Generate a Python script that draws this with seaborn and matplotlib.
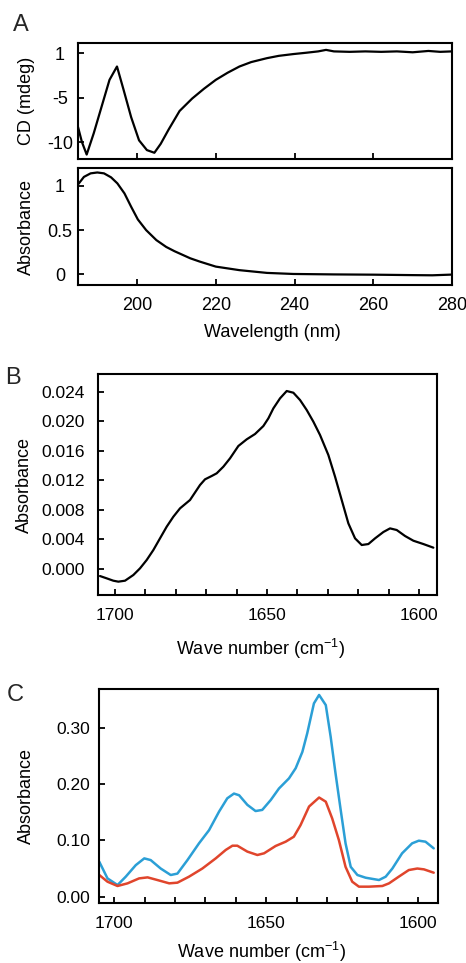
import numpy as np
import pandas as pd
import matplotlib
matplotlib.use("Agg")
import matplotlib.pyplot as plt
import seaborn as sns
from matplotlib.ticker import FixedLocator, MultipleLocator

# ---- panel A: CD spectrum and UV absorbance ----
cd_wavelength = [185.0, 186.0, 187.2, 189.0, 191.0, 193.0, 194.9, 196.5, 198.5, 200.5,
                 202.5, 204.4, 206.0, 208.0, 210.8, 214.0, 217.0, 220.0, 223.0, 226.0,
                 229.0, 233.0, 236.0, 239.7, 243.0, 246.0, 248.0, 250.0, 254.0, 258.0,
                 262.0, 266.0, 270.0, 274.0, 277.0, 280.0]
cd_mdeg = [-8.3, -10.0, -11.4, -9.0, -6.0, -3.0, -1.5, -4.0, -7.2, -9.8,
           -10.9, -11.2, -10.2, -8.6, -6.5, -5.1, -4.0, -3.0, -2.2, -1.5,
           -1.0, -0.56, -0.3, -0.1, 0.05, 0.2, 0.37, 0.2, 0.15, 0.2,
           0.15, 0.2, 0.1, 0.25, 0.15, 0.2]

uv_wavelength = [185.1, 186.5, 188.2, 189.9, 191.6, 193.4, 195.0, 196.8, 198.5, 200.2,
                 202.3, 204.9, 207.4, 209.5, 211.6, 213.5, 215.9, 220.0, 226.0, 233.0,
                 239.7, 250.0, 260.0, 270.0, 275.0, 280.0]
uv_abs = [1.02, 1.10, 1.14, 1.15, 1.14, 1.095, 1.027, 0.914, 0.763, 0.62,
          0.50, 0.387, 0.31, 0.262, 0.22, 0.182, 0.145, 0.088, 0.048, 0.017,
          0.005, 0.0, -0.003, -0.008, -0.01, -0.002]

# ---- panel B: FTIR amide I ----
b_wavenumber = [1704.93, 1702.74, 1700.55, 1698.90, 1696.71, 1693.97, 1691.78, 1689.58, 1687.39, 1685.20,
                1683.00, 1680.81, 1678.62, 1675.33, 1672.04, 1670.39, 1668.20, 1666.56, 1664.36, 1662.17,
                1659.43, 1656.69, 1653.95, 1651.21, 1649.56, 1647.92, 1645.72, 1643.53, 1641.34, 1639.14,
                1636.95, 1634.76, 1632.57, 1629.83, 1627.63, 1625.44, 1623.25, 1621.05, 1618.86, 1616.67,
                1614.47, 1611.73, 1609.54, 1607.35, 1604.61, 1601.86, 1598.57, 1595.29]
b_abs = [-0.00095, -0.00126, -0.00158, -0.00171, -0.00158, -0.00081, 0.00009, 0.00122, 0.00257, 0.00415,
         0.00573, 0.00708, 0.00821, 0.00934, 0.01137, 0.01214, 0.01259, 0.01295, 0.01385, 0.01498,
         0.01665, 0.01755, 0.01827, 0.01935, 0.02039, 0.02174, 0.02310, 0.02409, 0.02386, 0.02287,
         0.02152, 0.01994, 0.01814, 0.01543, 0.01250, 0.00934, 0.00618, 0.00415, 0.00325, 0.00338,
         0.00415, 0.00501, 0.00550, 0.00528, 0.00447, 0.00383, 0.00338, 0.00289]

# ---- panel C: two FTIR spectra ----
c_blue_wn = [1704.9, 1702.2, 1698.9, 1696.2, 1692.9, 1690.1, 1688.0, 1684.7, 1681.4, 1679.2,
             1675.9, 1672.1, 1668.8, 1665.5, 1662.8, 1660.6, 1658.9, 1656.2, 1653.5, 1651.3,
             1648.5, 1645.8, 1642.5, 1640.3, 1638.1, 1636.5, 1634.3, 1632.6, 1630.4, 1628.8,
             1627.2, 1625.5, 1623.9, 1622.2, 1620.0, 1617.3, 1612.9, 1610.7, 1608.5, 1605.3,
             1602.0, 1599.8, 1597.6, 1594.9]
c_blue_abs = [0.062, 0.0325, 0.0207, 0.0355, 0.056, 0.068, 0.065, 0.050, 0.0385, 0.041,
              0.065, 0.0947, 0.118, 0.151, 0.1746, 0.183, 0.180, 0.163, 0.152, 0.154,
              0.1716, 0.192, 0.210, 0.228, 0.257, 0.290, 0.343, 0.358, 0.340, 0.284,
              0.219, 0.154, 0.0947, 0.053, 0.0385, 0.0337, 0.0296, 0.0355, 0.050, 0.077,
              0.0947, 0.0994, 0.0976, 0.0858]
c_red_wn = [1704.9, 1702.2, 1698.9, 1695.6, 1691.8, 1689.0, 1685.8, 1681.9, 1679.2, 1675.4,
            1671.0, 1666.6, 1663.3, 1661.1, 1659.5, 1656.2, 1652.9, 1650.7, 1646.9, 1643.6,
            1640.9, 1638.7, 1635.9, 1632.6, 1630.4, 1628.3, 1626.1, 1623.9, 1621.7, 1619.5,
            1616.2, 1611.8, 1609.6, 1606.4, 1603.1, 1600.3, 1598.1, 1594.9]
c_red_abs = [0.0385, 0.0266, 0.019, 0.0237, 0.0325, 0.0343, 0.0296, 0.0237, 0.0249, 0.0355,
             0.050, 0.068, 0.083, 0.0905, 0.0905, 0.080, 0.074, 0.077, 0.090, 0.0976,
             0.1065, 0.127, 0.160, 0.176, 0.1686, 0.139, 0.1006, 0.053, 0.0266, 0.0178,
             0.0178, 0.019, 0.0237, 0.0355, 0.0473, 0.050, 0.0485, 0.0426]

blue = "#2b9fd6"
red = "#e0452c"

sns.set_theme(style="ticks")
plt.rcParams["font.family"] = ["Liberation Sans", "DejaVu Sans"]
plt.rcParams["mathtext.default"] = "regular"
plt.rcParams["axes.unicode_minus"] = False

fig = plt.figure(figsize=(4.66, 9.63), dpi=100)
label_fs = 13


def style(ax, tick_fs, xpad, ypad):
    for s in ax.spines.values():
        s.set_linewidth(1.5)
        s.set_color("black")
    ax.tick_params(which="both", direction="in", length=4, width=1.3, color="black",
                   labelsize=tick_fs, labelcolor="black", top=False, right=False)
    ax.tick_params(axis="x", which="both", pad=xpad)
    ax.tick_params(axis="y", which="both", pad=ypad)
    ax.set_facecolor("white")


# A top
ax1 = fig.add_axes([0.1674, 0.8349, 0.8026, 0.1205])
sns.lineplot(x=cd_wavelength, y=cd_mdeg, ax=ax1, color="black", linewidth=1.6)
ax1.set_xlim(185, 280)
ax1.set_ylim(-11.9, 1.15)
ax1.xaxis.set_major_locator(FixedLocator([200, 220, 240, 260]))
ax1.set_xticklabels([])
ax1.set_yticks([0, -5, -10])
ax1.set_yticklabels(["1", "-5", "-10"])
style(ax1, 13, 9, 13)
for lbl in ax1.get_yticklabels():
    lbl.set_ha("center")
ax1.set_ylabel("CD (mdeg)", fontsize=label_fs, color="black")
ax1.yaxis.set_label_coords(-0.115, 0.5)

# A bottom
ax2 = fig.add_axes([0.1674, 0.7040, 0.8026, 0.1215])
sns.lineplot(x=uv_wavelength, y=uv_abs, ax=ax2, color="black", linewidth=1.6)
ax2.set_xlim(185, 280)
ax2.set_ylim(-0.12, 1.2)
ax2.set_xticks([200, 220, 240, 260, 280])
ax2.set_yticks([0, 0.5, 1])
ax2.set_yticklabels(["0", "0.5", "1"])
style(ax2, 13, 8.5, 13)
for lbl in ax2.get_yticklabels():
    lbl.set_ha("center")
ax2.set_ylabel("Absorbance", fontsize=label_fs, color="black")
ax2.yaxis.set_label_coords(-0.115, 0.5)
ax2.set_xlabel("Wavelength (nm)", fontsize=label_fs, va="baseline", color="black")
ax2.xaxis.set_label_coords(0.521, -0.444)

# B
ax3 = fig.add_axes([0.2109, 0.3821, 0.7262, 0.2292])
sns.lineplot(x=b_wavenumber, y=b_abs, ax=ax3, color="black", linewidth=1.6)
ax3.set_xlim(1705.5, 1594.2)
ax3.set_ylim(-0.00352, 0.02635)
ax3.set_xticks([1700, 1650, 1600])
ax3.xaxis.set_minor_locator(MultipleLocator(10))
ax3.set_yticks([0.000, 0.004, 0.008, 0.012, 0.016, 0.020, 0.024])
ax3.set_yticklabels(["0.000", "0.004", "0.008", "0.012", "0.016", "0.020", "0.024"])
style(ax3, 12.5, 9, 9.5)
ax3.set_ylabel("Absorbance", fontsize=label_fs, color="black")
ax3.yaxis.set_label_coords(-0.193, 0.5)
ax3.set_xlabel("Wave number (cm$^{-1}$)", fontsize=label_fs, va="baseline", color="black")
ax3.xaxis.set_label_coords(0.479, -0.272)

# C
ax4 = fig.add_axes([0.2124, 0.0620, 0.7268, 0.2222])
sns.lineplot(x=c_blue_wn, y=c_blue_abs, ax=ax4, color=blue, linewidth=1.8)
sns.lineplot(x=c_red_wn, y=c_red_abs, ax=ax4, color=red, linewidth=1.8)
ax4.set_xlim(1705.0, 1593.6)
ax4.set_ylim(-0.0117, 0.368)
ax4.set_xticks([1700, 1650, 1600])
ax4.xaxis.set_minor_locator(MultipleLocator(10))
ax4.set_yticks([0.0, 0.1, 0.2, 0.3])
ax4.set_yticklabels(["0.00", "0.10", "0.20", "0.30"])
style(ax4, 12.5, 9, 6.5)
ax4.set_ylabel("Absorbance", fontsize=label_fs, color="black")
ax4.yaxis.set_label_coords(-0.189, 0.5)
ax4.set_xlabel("Wave number (cm$^{-1}$)", fontsize=label_fs, va="baseline", color="black")
ax4.xaxis.set_label_coords(0.48, -0.2556)

# panel letters
fig.text(21 / 466, 1 - 25 / 963, "A", fontsize=17, ha="center", va="center")
fig.text(13 / 466, 1 - 378 / 963, "B", fontsize=17, ha="center", va="center")
fig.text(15 / 466, 1 - 695 / 963, "C", fontsize=17, ha="center", va="center")

fig.savefig("out.png", dpi=100, facecolor="white")
